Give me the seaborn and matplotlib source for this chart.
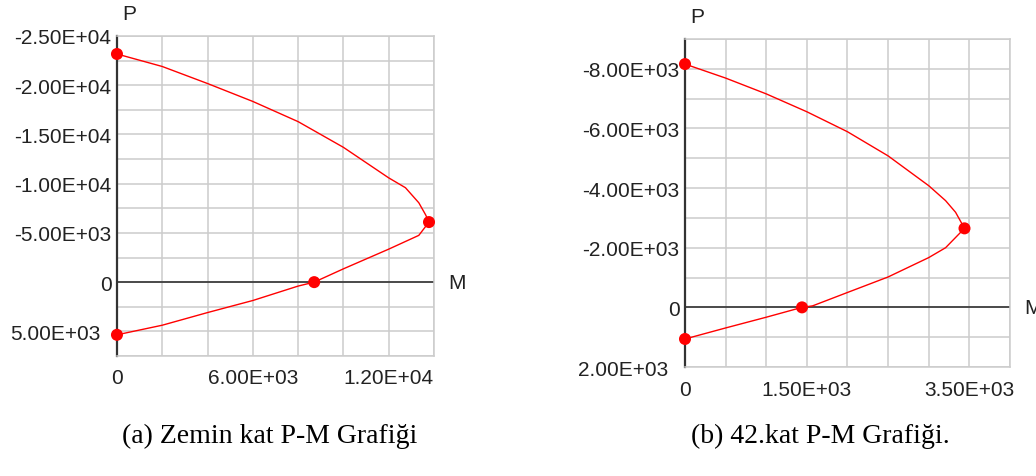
"""
P-M interaction diagrams (Zemin kat / 42.kat) drawn with seaborn.
"""

import matplotlib.pyplot as plt
import seaborn as sns
from matplotlib.transforms import ScaledTranslation

sns.set_style("white")
plt.rcParams["font.family"] = ["Liberation Sans", "DejaVu Sans"]

# --- data ------------------------------------------------------------------
# (a) Zemin kat
zemin_m = [0, 2000, 4000, 6000, 8000, 10000, 12000, 12740, 13330, 13630, 13780,
           13330, 12000, 10000, 8710, 8000, 6000, 4000, 2000, 0]
zemin_p = [-23170, -21900, -20170, -18350, -16300, -13690, -10590, -9590, -8060, -6840, -6100,
           -4750, -3350, -1350, 0, 400, 1865, 3090, 4375, 5350]
zemin_key_m = [0, 13780, 8710, 0]
zemin_key_p = [-23170, -6100, 0, 5350]
zemin_xgrid = [0, 2000, 4000, 6000, 8000, 10000, 12000, 14000]
zemin_ygrid = [-25000, -22500, -20000, -17500, -15000, -12500, -10000, -7500,
               -5000, -2500, 0, 2500, 5000, 7500]
zemin_xlabels = {0: "0", 6000: "6.00E+03", 12000: "1.20E+04"}
zemin_ylabels = {-25000: "-2.50E+04", -20000: "-2.00E+04", -15000: "-1.50E+04",
                 -10000: "-1.00E+04", -5000: "-5.00E+03", 0: "0", 5000: "5.00E+03"}

# (b) 42.kat
kat42_m = [0, 500, 1000, 1500, 2000, 2500, 3000, 3207, 3330, 3440,
           3207, 3000, 2500, 2000, 1570, 1440, 1000, 500, 0]
kat42_p = [-8160, -7690, -7160, -6560, -5890, -5080, -4080, -3580, -3190, -2650,
           -2000, -1670, -1020, -500, -50, 0, 330, 690, 1060]
kat42_key_m = [0, 3440, 1440, 0]
kat42_key_p = [-8160, -2650, 0, 1060]
kat42_xgrid = [0, 500, 1000, 1500, 2000, 2500, 3000, 3500, 4000]
kat42_ygrid = [-9000, -8000, -7000, -6000, -5000, -4000, -3000, -2000, -1000,
               0, 1000, 2000]
kat42_xlabels = {0: "0", 1500: "1.50E+03", 3500: "3.50E+03"}
kat42_ylabels = {-8000: "-8.00E+03", -6000: "-6.00E+03", -4000: "-4.00E+03",
                 -2000: "-2.00E+03", 0: "0", 2000: "2.00E+03"}

captions = ["(a) Zemin kat P-M Grafiği", "(b) 42.kat P-M Grafiği."]

GRID = "#cccccc"
DARK = "#333333"


def draw_pm(ax, m, p, key_m, key_p, xgrid, ygrid, xlabels, ylabels):
    ax.set_xlim(xgrid[0], xgrid[-1])
    ax.set_ylim(ygrid[-1], ygrid[0])  # compression (negative) on top

    ax.set_xticks(xgrid)
    ax.set_xticklabels([xlabels.get(v, "") for v in xgrid])
    ax.set_yticks(ygrid)
    ax.set_yticklabels([ylabels.get(v, "") for v in ygrid])
    ax.tick_params(length=0, labelsize=15, colors="#222222")
    ax.tick_params(axis="x", pad=9)
    ax.tick_params(axis="y", pad=4)

    # positive P labels sit a bit further left in the original
    for val, lab in zip(ygrid, ax.get_yticklabels()):
        if val > 0:
            lab.set_transform(lab.get_transform()
                              + ScaledTranslation(-11 / 100, 0, ax.figure.dpi_scale_trans))

    ax.grid(True, color=GRID, lw=1.1)
    for side in ["top", "right", "bottom"]:
        ax.spines[side].set_color(GRID)
        ax.spines[side].set_linewidth(1.1)
    ax.spines["left"].set_color(DARK)
    ax.spines["left"].set_linewidth(1.6)
    ax.axhline(0, color=DARK, lw=1.2, zorder=2)

    sns.lineplot(x=m, y=p, sort=False, estimator=None, color="red", lw=1.0,
                 ax=ax, zorder=3)
    sns.scatterplot(x=key_m, y=key_p, color="red", s=75, edgecolor="none",
                    marker="o", zorder=5, clip_on=False, ax=ax)

    ax.set_xlabel("")
    ax.set_ylabel("")
    ax.annotate("P", xy=(0, 1), xycoords="axes fraction", xytext=(4, 16),
                textcoords="offset points", ha="left", va="center",
                fontsize=15, color="#222222")
    ax.annotate("M", xy=(1, 0), xycoords=("axes fraction", "data"), xytext=(10, 0),
                textcoords="offset points", ha="left", va="center",
                fontsize=15, color="#222222", annotation_clip=False)


fig = plt.figure(figsize=(10.36, 4.77), dpi=100)
ax1 = fig.add_axes([0.1129, 0.2516, 0.3060, 0.6709])
ax2 = fig.add_axes([0.6612, 0.2285, 0.3137, 0.6876])

draw_pm(ax1, zemin_m, zemin_p, zemin_key_m, zemin_key_p,
        zemin_xgrid, zemin_ygrid, zemin_xlabels, zemin_ylabels)
draw_pm(ax2, kat42_m, kat42_p, kat42_key_m, kat42_key_p,
        kat42_xgrid, kat42_ygrid, kat42_xlabels, kat42_ylabels)

for xc, text in zip([0.2606, 0.7915], captions):
    fig.text(xc, 0.086, text, ha="center", va="center", fontsize=20,
             family=["Liberation Serif", "DejaVu Serif"], color="black")

fig.savefig("out.png", dpi=100)
